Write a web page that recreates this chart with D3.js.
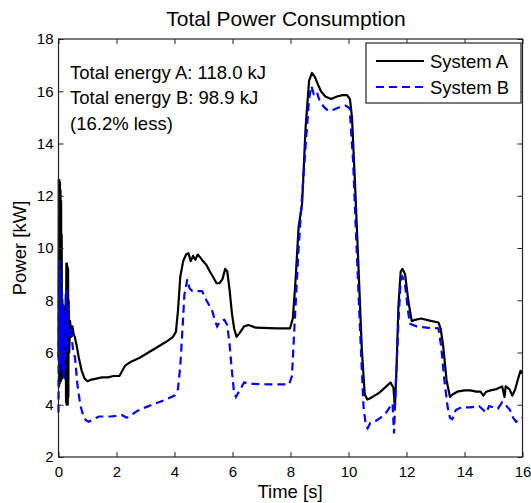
<!DOCTYPE html>
<html>
<head>
<meta charset="utf-8">
<script src="https://cdn.jsdelivr.net/npm/d3@7"></script>
<style>
body { margin: 0; background: #fff; }
text { font-family: "Liberation Sans", Arial, Helvetica, sans-serif; fill: #000; }
</style>
</head>
<body>
<div id="chart"></div>
<script>
// Achsen
var xTicks = [0, 2, 4, 6, 8, 10, 12, 14, 16];
var yTicks = [2, 4, 6, 8, 10, 12, 14, 16, 18];

// Zeit [s] und Leistung [kW], System A
var timeA = [0, 0.01, 0.02, 0.03, 0.04, 0.05, 0.06, 0.07, 0.08, 0.09, 0.10, 0.11, 0.12, 0.13, 0.15, 0.17, 0.19, 0.21, 0.23, 0.25, 0.26, 0.27, 0.28, 0.29, 0.30, 0.31, 0.32, 0.33, 0.34, 0.35, 0.37, 0.40, 0.44, 0.48, 0.52, 0.56, 0.62, 0.7, 0.8, 0.9, 1.0, 1.1, 1.3, 1.5, 1.7, 1.9, 2.1, 2.3, 2.5, 2.8, 3.1, 3.4, 3.7, 3.95, 4.05, 4.12, 4.2, 4.3, 4.4, 4.48, 4.56, 4.64, 4.72, 4.8, 4.88, 4.98, 5.1, 5.22, 5.35, 5.45, 5.55, 5.65, 5.75, 5.82, 5.9, 5.98, 6.06, 6.14, 6.25, 6.4, 6.55, 6.8, 7.5, 7.98, 8.08, 8.17, 8.28, 8.4, 8.52, 8.64, 8.74, 8.84, 8.93, 9.05, 9.2, 9.4, 9.6, 9.8, 9.95, 10.05, 10.12, 10.22, 10.34, 10.46, 10.56, 10.65, 10.75, 10.9, 11.05, 11.2, 11.35, 11.45, 11.55, 11.6, 11.66, 11.72, 11.8, 11.86, 11.95, 12.06, 12.18, 12.3, 12.5, 12.8, 13.1, 13.18, 13.27, 13.38, 13.5, 13.6, 13.75, 14.0, 14.2, 14.4, 14.55, 14.65, 14.75, 14.9, 15.1, 15.3, 15.38, 15.42, 15.55, 15.65, 15.75, 15.85, 15.93, 16];
var powerA = [5.8, 12.6, 4.7, 12.6, 4.8, 12.5, 5.0, 12.2, 4.9, 11.8, 5.2, 10.5, 5.0, 8.0, 5.3, 7.8, 5.1, 7.6, 5.0, 8.2, 4.1, 9.4, 4.0, 9.4, 4.1, 9.3, 4.0, 9.2, 4.3, 8.0, 6.0, 7.2, 6.6, 7.0, 6.7, 6.6, 6.3, 5.8, 5.3, 5.0, 4.9, 4.95, 5.0, 5.05, 5.05, 5.1, 5.1, 5.5, 5.65, 5.8, 6.0, 6.2, 6.4, 6.6, 6.8, 7.6, 8.9, 9.5, 9.75, 9.8, 9.5, 9.7, 9.55, 9.75, 9.65, 9.5, 9.35, 9.1, 8.85, 8.65, 8.65, 8.8, 9.2, 9.1, 8.4, 7.5, 6.9, 6.6, 6.75, 7.0, 7.05, 6.95, 6.92, 6.92, 7.3, 8.7, 10.8, 11.7, 14.6, 16.4, 16.7, 16.55, 16.3, 16.0, 15.8, 15.7, 15.8, 15.85, 15.85, 15.7, 15.0, 12.6, 9.4, 6.1, 4.4, 4.2, 4.25, 4.35, 4.45, 4.6, 4.75, 4.85, 4.65, 3.9, 5.5, 7.75, 9.1, 9.2, 9.0, 8.0, 7.2, 7.25, 7.3, 7.22, 7.15, 6.9, 6.2, 4.95, 4.3, 4.4, 4.5, 4.55, 4.55, 4.5, 4.5, 4.35, 4.5, 4.55, 4.6, 4.7, 4.3, 4.7, 4.6, 4.35, 4.6, 5.0, 5.3, 5.2];

// System B
var timeB = [0, 0.01, 0.02, 0.03, 0.04, 0.05, 0.06, 0.07, 0.08, 0.10, 0.12, 0.14, 0.16, 0.18, 0.2, 0.22, 0.24, 0.26, 0.28, 0.30, 0.32, 0.36, 0.42, 0.5, 0.57, 0.65, 0.75, 0.86, 0.95, 1.05, 1.2, 1.4, 1.8, 2.2, 2.35, 2.5, 2.7, 3.0, 3.35, 3.7, 4.0, 4.12, 4.2, 4.26, 4.34, 4.44, 4.52, 4.62, 4.75, 4.95, 5.1, 5.2, 5.3, 5.4, 5.47, 5.57, 5.72, 5.82, 5.9, 5.97, 6.05, 6.12, 6.22, 6.4, 6.7, 7.2, 7.95, 8.05, 8.16, 8.28, 8.4, 8.52, 8.64, 8.72, 8.8, 8.9, 9.0, 9.15, 9.3, 9.5, 9.7, 9.9, 10.04, 10.16, 10.28, 10.4, 10.52, 10.6, 10.66, 10.75, 10.9, 11.1, 11.3, 11.45, 11.52, 11.57, 11.62, 11.72, 11.8, 11.86, 11.95, 12.05, 12.12, 12.35, 12.7, 13.1, 13.2, 13.3, 13.42, 13.5, 13.58, 13.7, 13.9, 14.2, 14.5, 14.65, 14.75, 14.85, 15.0, 15.15, 15.3, 15.45, 15.57, 15.68, 15.78, 15.9, 16];
var powerB = [3.7, 7.0, 9.6, 5.2, 9.5, 5.6, 9.2, 5.8, 8.8, 5.5, 8.3, 5.3, 7.9, 5.0, 7.6, 5.4, 7.4, 6.2, 8.4, 6.0, 7.8, 6.6, 7.0, 6.1, 5.8, 4.8, 4.0, 3.55, 3.4, 3.35, 3.45, 3.55, 3.55, 3.6, 3.5, 3.6, 3.75, 3.9, 4.05, 4.2, 4.35, 4.6, 5.5, 6.6, 8.2, 8.8, 8.45, 8.35, 8.35, 8.35, 8.0, 7.8, 7.6, 7.2, 7.0, 7.2, 7.25, 7.05, 6.3, 5.4, 4.5, 4.3, 4.5, 4.85, 4.8, 4.78, 4.78, 5.1, 7.5, 10.0, 12.0, 13.9, 15.7, 16.2, 15.9, 16.0, 15.65, 15.4, 15.25, 15.3, 15.4, 15.45, 15.35, 13.3, 10.0, 6.8, 3.9, 3.2, 3.1, 3.3, 3.35, 3.5, 3.7, 3.95, 4.05, 2.9, 4.5, 7.1, 8.8, 8.9, 8.6, 7.6, 7.1, 7.0, 6.95, 6.93, 6.2, 5.0, 3.9, 3.5, 3.45, 3.8, 3.9, 3.9, 3.95, 3.8, 3.7, 3.95, 3.9, 3.85, 4.1, 3.95, 3.8, 3.5, 3.35, 3.42, 3.5];

var seriesNames = ["System A", "System B"];
var notes = ["Total energy A: 118.0 kJ", "Total energy B: 98.9 kJ", "(16.2% less)"];

var width = 531;
var height = 503;
// Plotbereich
var pLeft = 58.5, pRight = 522.5, pTop = 39, pBottom = 457;

var svg = d3.select("#chart")
    .append("svg")
    .attr("width", width)
    .attr("height", height);

var x = d3.scaleLinear().domain([0, 16]).range([pLeft, pRight]);
var y = d3.scaleLinear().domain([2, 18]).range([pBottom, pTop]);

//Kurven
var line = d3.line()
    .x(function(d) { return x(d[0]); })
    .y(function(d) { return y(d[1]); });

var dataA = timeA.map(function(t, i) { return [t, powerA[i]]; });
var dataB = timeB.map(function(t, i) { return [t, powerB[i]]; });

svg.append("path")
    .datum(dataA)
    .attr("d", line)
    .attr("fill", "none")
    .attr("stroke", "#000")
    .attr("stroke-width", 2.2)
    .attr("stroke-linejoin", "round");

svg.append("path")
    .datum(dataB)
    .attr("d", line)
    .attr("fill", "none")
    .attr("stroke", "#0000ff")
    .attr("stroke-width", 2.2)
    .attr("stroke-dasharray", "8,5");

//Achsen mit Ticks nach innen
svg.append("g")
    .attr("transform", "translate(0," + pBottom + ")")
    .call(d3.axisBottom(x).tickValues(xTicks).tickSize(-5).tickPadding(9.5).tickFormat(d3.format("d")))
    .call(function(g) { g.select(".domain").remove(); });
svg.append("g")
    .attr("transform", "translate(0," + pTop + ")")
    .call(d3.axisTop(x).tickValues(xTicks).tickSize(-5).tickFormat(""))
    .call(function(g) { g.select(".domain").remove(); });
svg.append("g")
    .attr("transform", "translate(" + pLeft + ",0)")
    .call(d3.axisLeft(y).tickValues(yTicks).tickSize(-5).tickPadding(5).tickFormat(d3.format("d")))
    .call(function(g) { g.select(".domain").remove(); });
svg.append("g")
    .attr("transform", "translate(" + pRight + ",0)")
    .call(d3.axisRight(y).tickValues(yTicks).tickSize(-5).tickFormat(""))
    .call(function(g) { g.select(".domain").remove(); });

svg.selectAll(".tick text")
    .attr("font-size", 15)
    .attr("font-family", "Liberation Sans, Arial, sans-serif");
svg.selectAll(".tick line").attr("stroke", "#222");

//Rahmen
svg.append("rect")
    .attr("x", pLeft)
    .attr("y", pTop)
    .attr("width", pRight - pLeft)
    .attr("height", pBottom - pTop)
    .attr("fill", "none")
    .attr("stroke", "#222")
    .attr("stroke-width", 1.2);

//Titel und Beschriftung
svg.append("text")
    .attr("x", 286)
    .attr("y", 26)
    .attr("text-anchor", "middle")
    .attr("font-size", 21)
    .text("Total Power Consumption");
svg.append("text")
    .attr("x", 290)
    .attr("y", 498)
    .attr("text-anchor", "middle")
    .attr("font-size", 18.5)
    .text("Time [s]");
svg.append("text")
    .attr("transform", "translate(26," + ((pTop + pBottom) / 2) + ") rotate(-90)")
    .attr("text-anchor", "middle")
    .attr("font-size", 18.5)
    .text("Power [kW]");

//Energie-Text
svg.selectAll("text.note")
    .data(notes)
    .enter()
    .append("text")
    .attr("class", "note")
    .attr("x", 70)
    .attr("y", function(d, i) { return 78.5 + i * 25.5; })
    .attr("font-size", 18.5)
    .text(function(d) { return d; });

//Legende
var lg = svg.append("g");
lg.append("rect")
    .attr("x", 366)
    .attr("y", 43)
    .attr("width", 155)
    .attr("height", 60)
    .attr("fill", "#fff")
    .attr("stroke", "#222")
    .attr("stroke-width", 1.2);
lg.selectAll("line")
    .data(seriesNames)
    .enter()
    .append("line")
    .attr("x1", 376)
    .attr("x2", 424)
    .attr("y1", function(d, i) { return 61 + i * 26; })
    .attr("y2", function(d, i) { return 61 + i * 26; })
    .attr("stroke", function(d, i) { return i == 0 ? "#000" : "#0000ff"; })
    .attr("stroke-width", 2.2)
    .attr("stroke-dasharray", function(d, i) { return i == 0 ? null : "8,5"; });
lg.selectAll("text")
    .data(seriesNames)
    .enter()
    .append("text")
    .attr("x", 430)
    .attr("y", function(d, i) { return 68 + i * 26; })
    .attr("font-size", 18.5)
    .text(function(d) { return d; });
</script>
</body>
</html>
